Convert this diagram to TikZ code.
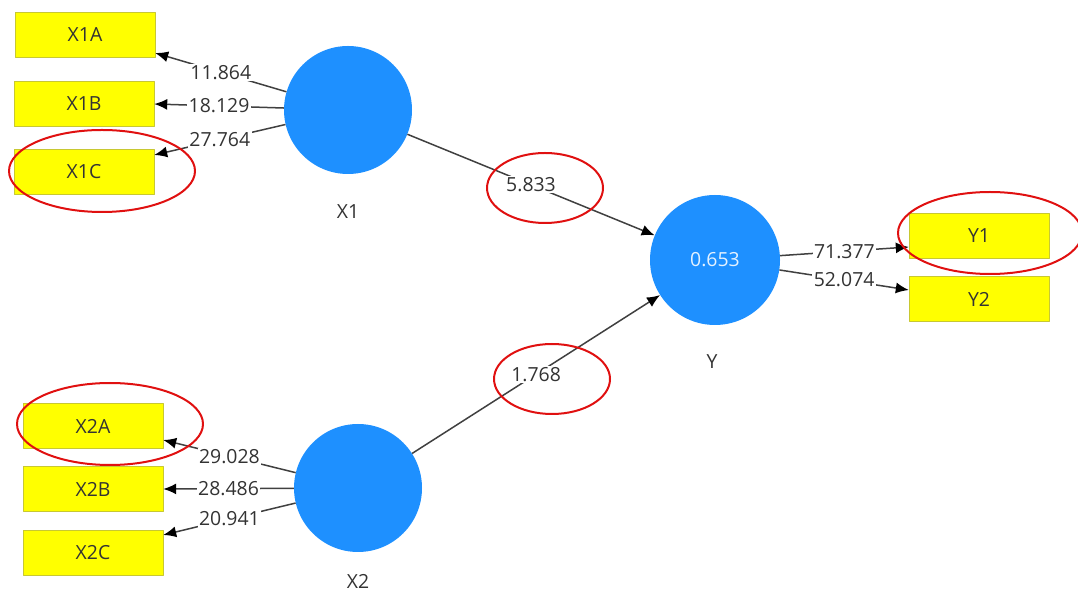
\documentclass[tikz,border=0pt]{standalone}
\usepackage{fontspec}
\setmainfont{Open Sans}
\usetikzlibrary{arrows.meta}
\definecolor{lvblue}{HTML}{1E90FF}
\definecolor{boxyellow}{HTML}{FFFF00}
\definecolor{boxedge}{HTML}{C8C832}
\definecolor{textgray}{HTML}{333333}
\definecolor{linegray}{HTML}{404040}
\definecolor{ringred}{HTML}{E01010}
\tikzset{
  indicator/.style={draw=boxedge,fill=boxyellow,minimum width=140bp,minimum height=45bp,inner sep=0pt,text=textgray},
  latent/.style={circle,fill=lvblue,minimum size=128bp,inner sep=0pt},
  weight/.style={fill=white,inner sep=1.5bp,text=textgray},
  pathline/.style={draw=linegray,line width=1.5bp,->},
  redring/.style={draw=ringred,line width=2bp},
}
\begin{document}
\begin{tikzpicture}[>={Latex[length=13bp,width=11bp,color=black]},line join=bevel,font=\fontsize{19.5}{23}\selectfont]
\useasboundingbox (0bp,0bp) rectangle (1078bp,593bp);
%%
\node (X1) at (348bp,483bp) [latent] {};
  \node (Y) at (715bp,333bp) [latent,minimum size=130bp,text=white!88!lvblue] {0.653};
  \node (X2) at (358bp,105bp) [latent] {};
  \node (X1_name) at (348bp,381bp) [text=textgray] {X1};
  \node (Y_name) at (712bp,231bp) [text=textgray] {Y};
  \node (X2_name) at (358bp,12bp) [text=textgray] {X2};
%%
\node (X1A) at (85bp,558bp) [indicator] {X1A};
  \node (X1B) at (84bp,489bp) [indicator] {X1B};
  \node (X1C) at (84bp,421bp) [indicator] {X1C};
  \node (X2A) at (93bp,167bp) [indicator] {X2A};
  \node (X2B) at (93bp,104bp) [indicator] {X2B};
  \node (X2C) at (93bp,40bp) [indicator] {X2C};
  \node (Y1) at (979bp,357bp) [indicator] {Y1};
  \node (Y2) at (979bp,294bp) [indicator] {Y2};
%%
\draw [pathline] (X1) -- node[weight] {11.864} ([yshift=-18bp]X1A.east);
  \draw [pathline] (X1) -- node[weight] {18.129} (X1B.east);
  \draw [pathline] (X1) -- node[weight] {27.764} ([yshift=17bp]X1C.east);
  \draw [pathline] (X2) -- node[weight] {29.028} ([yshift=-14bp]X2A.east);
  \draw [pathline] (X2) -- node[weight] {28.486} (X2B.east);
  \draw [pathline] (X2) -- node[weight] {20.941} ([yshift=18bp]X2C.east);
  \draw [pathline] (Y) -- node[weight] {71.377} ([yshift=-11bp]Y1.west);
  \draw [pathline] (Y) -- node[weight] {52.074} ([yshift=9bp]Y2.west);
  \draw [pathline] (X1) -- node[weight] {5.833} (Y);
  \draw [pathline] (X2) -- node[weight] {1.768} (Y);
%%
\draw [redring] (102bp,422bp) ellipse [x radius=93bp,y radius=41bp];
  \draw [redring] (545bp,405bp) ellipse [x radius=58bp,y radius=35bp];
  \draw [redring] (552bp,214bp) ellipse [x radius=58bp,y radius=35bp];
  \draw [redring] (110bp,169bp) ellipse [x radius=93bp,y radius=41bp];
  \draw [redring] (990bp,360bp) ellipse [x radius=92bp,y radius=41bp];
%
\end{tikzpicture}
\end{document}
